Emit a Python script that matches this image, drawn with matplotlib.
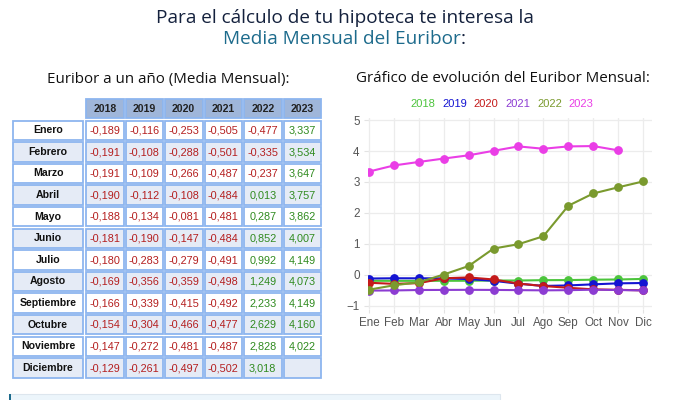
import matplotlib
matplotlib.use("Agg")
import matplotlib.pyplot as plt
from matplotlib.patches import Rectangle

# ---- data ----
YEARS = ["2018", "2019", "2020", "2021", "2022", "2023"]
MONTHS = ["Enero", "Febrero", "Marzo", "Abril", "Mayo", "Junio", "Julio",
          "Agosto", "Septiembre", "Octubre", "Noviembre", "Diciembre"]
MONTHS_SHORT = ["Ene", "Feb", "Mar", "Abr", "May", "Jun", "Jul", "Ago",
                "Sep", "Oct", "Nov", "Dic"]
E2018 = [-0.189, -0.191, -0.191, -0.190, -0.188, -0.181, -0.180, -0.169, -0.166, -0.154, -0.147, -0.129]
E2019 = [-0.116, -0.108, -0.109, -0.112, -0.134, -0.190, -0.283, -0.356, -0.339, -0.304, -0.272, -0.261]
E2020 = [-0.253, -0.288, -0.266, -0.108, -0.081, -0.147, -0.279, -0.359, -0.415, -0.466, -0.481, -0.497]
E2021 = [-0.505, -0.501, -0.487, -0.484, -0.481, -0.484, -0.491, -0.498, -0.492, -0.477, -0.487, -0.502]
E2022 = [-0.477, -0.335, -0.237, 0.013, 0.287, 0.852, 0.992, 1.249, 2.233, 2.629, 2.828, 3.018]
E2023 = [3.337, 3.534, 3.647, 3.757, 3.862, 4.007, 4.149, 4.073, 4.149, 4.160, 4.022]
SERIES = [E2018, E2019, E2020, E2021, E2022, E2023]
COLORS = ["#4cc43c", "#1414d2", "#c41a1a", "#8c3cd2", "#7a9a2e", "#ea3ee6"]

W, H = 690, 400
fig = plt.figure(figsize=(W / 100, H / 100), dpi=100)
fig.patch.set_facecolor("white")

# overlay in pixel units for texts and the table
ov = fig.add_axes([0, 0, 1, 1])
ov.set_xlim(0, W)
ov.set_ylim(H, 0)
ov.axis("off")

TITLE_FONT = "Open Sans"
NAVY = "#14213d"
TEAL = "#1d6b8c"
ov.text(W / 2, 18, "Para el cálculo de tu hipoteca te interesa la", ha="center", va="center",
        fontsize=13.7, color=NAVY, family=TITLE_FONT)
t2 = ov.text(W / 2 - 3, 39, "Media Mensual del Euribor", ha="center", va="center",
             fontsize=13.7, color=TEAL, family=TITLE_FONT)
fig.canvas.draw()
bb = t2.get_window_extent()
ov.text(bb.x1, 39, ":", ha="left", va="center", fontsize=13.7, color=NAVY, family=TITLE_FONT)

ov.text(168, 79, "Euribor a un año (Media Mensual):", ha="center", va="center",
        fontsize=10.9, color="#111111", family=TITLE_FONT)
ov.text(503, 79, "Gráfico de evolución del Euribor Mensual:", ha="center", va="center",
        fontsize=10.9, color="#111111", family=TITLE_FONT)

# ---- table ----
BORDER = "#8db5ef"
HEAD_FILL = "#9fb6da"
ALT_FILL = "#e5ebf6"
col_x = [86, 125.5, 165, 204.5, 244, 283.5]
col_w = 37.5
lab_x, lab_w = 13, 70
row0, pitch, rh = 120.5, 21.6, 19.5
TFONT = "Liberation Sans"

for j, yr in enumerate(YEARS):
    ov.add_patch(Rectangle((col_x[j], 99), col_w, 19, facecolor=HEAD_FILL,
                           edgecolor=BORDER, lw=1.3))
    ov.text(col_x[j] + col_w / 2, 108.8, yr, ha="center", va="center",
            fontsize=7.6, fontweight="bold", color="#222222", family=TFONT)

for i, m in enumerate(MONTHS):
    y = row0 + i * pitch
    fill = "white" if i % 2 == 0 else ALT_FILL
    ov.add_patch(Rectangle((lab_x, y), lab_w, rh, facecolor=fill, edgecolor=BORDER, lw=1.3))
    ov.text(lab_x + lab_w / 2, y + rh / 2, m, ha="center", va="center",
            fontsize=7.6, fontweight="bold", color="#111111", family=TFONT)
    for j, s in enumerate(SERIES):
        ov.add_patch(Rectangle((col_x[j], y), col_w, rh, facecolor=fill,
                               edgecolor=BORDER, lw=1.3))
        if i < len(s):
            v = s[i]
            txt = f"{v:.3f}".replace(".", ",")
            ov.text(col_x[j] + col_w / 2, y + rh / 2 + 0.3, txt, ha="center", va="center",
                    fontsize=7.8, color="#b41e1e" if v < 0 else "#2f8a1e", family=TFONT)

# bottom info box (partly visible)
ov.add_patch(Rectangle((9, 394), 491, 12, facecolor="#ecf5fb", edgecolor="#dde6ee", lw=0.8))
ov.add_patch(Rectangle((9, 394), 2, 12, facecolor="#1d6b8c", edgecolor="none"))

# ---- legend ----
for k, (yr, c) in enumerate(zip(YEARS, COLORS)):
    ov.text(423 + k * 31.6, 104, yr, ha="center", va="center", fontsize=8,
            color=c, family=TFONT)

# ---- line chart ----
ax = fig.add_axes([368 / W, 1 - 309 / H, (652 - 368) / W, (309 - 118.5) / H])
for s, c in zip(SERIES, COLORS):
    ax.plot(range(len(s)), s, color=c, lw=1.5, marker="o", ms=5.3,
            markeredgecolor=c, zorder=3)
ax.set_xlim(-0.04, 11.36)
ax.set_ylim(-1.1, 5.05)
ax.set_xticks(range(12))
ax.set_xticklabels(MONTHS_SHORT)
ax.set_yticks(range(-1, 6))
ax.grid(True, color="#ececec", lw=0.9)
for sp in ax.spines.values():
    sp.set_visible(False)
ax.tick_params(axis="both", length=3, color="#e3e3e3", labelsize=8.4,
               labelcolor="#555555", pad=3)
for lbl in ax.get_xticklabels() + ax.get_yticklabels():
    lbl.set_family(TFONT)

fig.savefig("out.png", dpi=100)
